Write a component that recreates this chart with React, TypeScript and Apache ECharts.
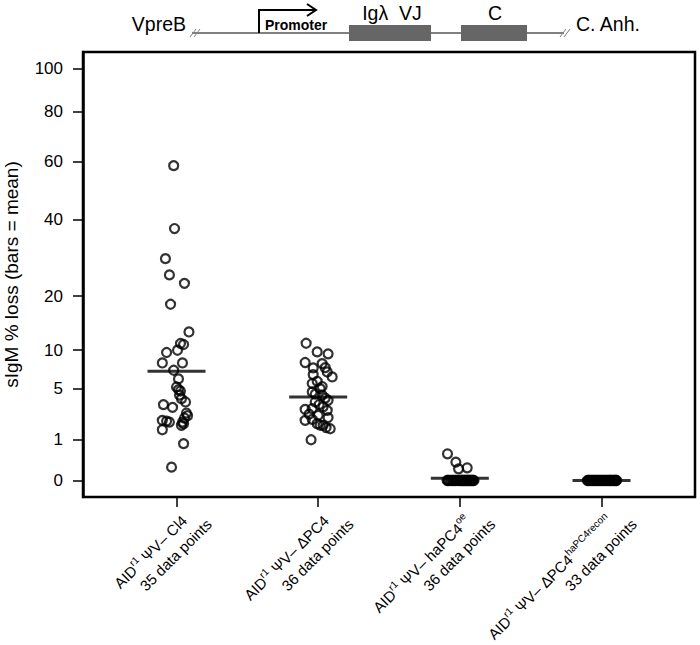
import React, { useEffect, useRef } from "react";
import * as echarts from "echarts";

// ---- data ----
const yTickValues = [0, 1, 5, 10, 20, 40, 60, 80, 100];
const categoryPositions = [1, 2, 3, 4];
const pointCounts = [35, 36, 36, 33];
const genotypeNames = ["Cl4", "ΔPC4", "haPC4", "ΔPC4"];
const genotypeSups = ["", "", "oe", "haPC4recon"];

const group1Values = [58.4, 37.4, 29.0, 24.9, 22.9, 18.3, 13.0, 11.06, 10.9, 10.0, 9.65, 8.14, 8.14, 7.16, 6.08, 5.15, 4.87, 4.72, 3.95, 3.63, 3.39, 3.15, 2.68, 2.48, 2.13, 2.08, 2.01, 2.01, 1.79, 1.52, 0.8, 0.105, 4.3, 2.3, 1.9];
const group1Jitter = [-0.02, -0.014, -0.078, -0.05, 0.056, -0.042, 0.088, 0.028, 0.05, 0.007, -0.07, -0.1, 0.042, -0.02, 0.014, 0, 0.014, 0.028, 0.035, 0.064, -0.092, -0.028, 0.07, 0.078, -0.1, -0.07, -0.05, 0.042, 0.035, -0.1, 0.05, -0.035, 0.021, 0.056, 0.05];

const group2Values = [11.1, 9.74, 9.45, 8.2, 8.05, 7.47, 7.5, 6.94, 6.32, 6.6, 5.54, 5.8, 4.97, 4.62, 4.4, 4.3, 3.79, 3.63, 2.98, 3.05, 3.2, 2.9, 2.5, 2.33, 2.13, 2.2, 1.9, 1.79, 1.65, 1.58, 0.98, 3.4, 4.0, 2.6, 1.8, 5.2];
const group2Jitter = [-0.085, -0.007, 0.07, -0.092, 0.028, -0.035, 0.05, 0.064, 0.099, -0.035, -0.042, -0.007, 0.014, -0.042, -0.021, 0.028, 0.07, -0.021, -0.092, -0.042, 0.035, 0.064, 0, 0.07, -0.092, -0.042, -0.007, 0.035, 0.056, 0.085, -0.05, 0.007, 0.05, -0.064, 0.014, 0.028];

const group3Values = [0.42, 0.2, 0.08, 0.095, 0, 0, 0, 0, 0, 0, 0, 0, 0, 0, 0, 0, 0, 0, 0, 0, 0, 0, 0, 0, 0, 0, 0, 0, 0, 0, 0, 0, 0, 0, 0, 0];
const group3Jitter = [-0.087, -0.028, -0.009, 0.052, -0.09, -0.085, -0.08, -0.07, -0.06, -0.05, -0.045, -0.035, -0.03, -0.02, -0.01, 0, 0.005, 0.01, 0.015, 0.02, 0.025, 0.03, 0.035, 0.04, 0.045, 0.05, 0.055, 0.06, 0.065, 0.07, 0.075, 0.08, 0.085, 0.09, 0.095, 0.1];

const group4Values = [0, 0, 0, 0, 0, 0, 0, 0, 0, 0, 0, 0, 0, 0, 0, 0, 0, 0, 0, 0, 0, 0, 0, 0, 0, 0, 0, 0, 0, 0, 0, 0, 0];
const group4Jitter = [-0.1, -0.095, -0.088, -0.08, -0.072, -0.065, -0.058, -0.05, -0.043, -0.036, -0.03, -0.022, -0.015, -0.008, 0, 0.007, 0.014, 0.021, 0.028, 0.035, 0.042, 0.049, 0.056, 0.063, 0.07, 0.077, 0.084, 0.09, 0.095, 0.1, 0.104, 0.106, 0.06];

const meanValues = [7.03, 4.11, 0.003, 0];

const FONT = "'Liberation Sans', Arial, sans-serif";

export default function App() {
  const ref = useRef<HTMLDivElement>(null);
  useEffect(() => {
    if (!ref.current) return;
    const chart = echarts.init(ref.current, null, { renderer: "svg" });
    const groupValues = [group1Values, group2Values, group3Values, group4Values];
    const groupJitter = [group1Jitter, group2Jitter, group3Jitter, group4Jitter];
    const points: number[][] = [];
    groupValues.forEach((vals, g) => {
      vals.forEach((v, i) => {
        points.push([categoryPositions[g] + groupJitter[g][i], Math.sqrt(v)]);
      });
    });
    const means = meanValues.map((m, g) => [categoryPositions[g], Math.sqrt(m)]);
    const sqrtTicks = yTickValues.map((v) => Math.sqrt(v));

    const option: any = {
      animation: false,
      backgroundColor: "#fff",
      textStyle: { fontFamily: FONT },
      grid: {
        left: 83,
        right: 5,
        top: 52,
        bottom: 148,
        outerBoundsMode: "none",
        containLabel: false,
        show: true,
        borderColor: "#000",
        borderWidth: 2.5,
        backgroundColor: "transparent",
      },
      xAxis: {
        type: "value",
        min: 0.34,
        max: 4.66,
        axisLine: { show: false, onZero: false },
        splitLine: { show: false },
        axisTick: {
          show: true,
          customValues: categoryPositions,
          length: 10,
          lineStyle: { color: "#000", width: 1.5 },
        },
        axisLabel: {
          customValues: categoryPositions,
          rotate: 45,
          margin: -8,
          verticalAlign: "top",
          align: "right",
          padding: [16, 0, 0, 0],
          color: "#000",
          fontSize: 15,
          fontFamily: FONT,
          formatter: (v: number) => {
            const i = Math.round(v) - 1;
            const sup = genotypeSups[i] ? `{s|${genotypeSups[i]}}` : "";
            return `{n|AID}{s|r1}{n| ΨV– ${genotypeNames[i]}}${sup}{p|}\n{n|${pointCounts[i]} data points}`;
          },
          rich: {
            n: { fontSize: 15, color: "#000", fontFamily: FONT, lineHeight: 20 },
            s: { fontSize: 10, color: "#000", fontFamily: FONT, verticalAlign: "top", lineHeight: 20 },
            p: { width: 15 },
          },
        },
      },
      yAxis: {
        type: "value",
        min: -0.4,
        max: 10.4,
        name: "sIgM % loss (bars = mean)",
        nameLocation: "middle",
        nameGap: 62,
        nameTextStyle: { fontSize: 19, color: "#000", fontFamily: FONT },
        axisLine: { show: true, onZero: false, lineStyle: { color: "#000", width: 2.5 } },
        splitLine: { show: false },
        axisTick: {
          show: true,
          customValues: sqrtTicks,
          length: 10,
          lineStyle: { color: "#000", width: 1.5 },
        },
        axisLabel: {
          customValues: sqrtTicks,
          margin: 20,
          fontSize: 17,
          color: "#000",
          fontFamily: FONT,
          formatter: (v: number) => String(Math.round(v * v)),
        },
      },
      series: [
        {
          type: "scatter",
          data: points,
          symbol: "circle",
          symbolSize: 9,
          itemStyle: { color: "rgba(0,0,0,0)", borderColor: "#000", borderWidth: 2.2 },
          emphasis: { disabled: true },
          z: 2,
        },
        {
          type: "scatter",
          data: means,
          symbol: "rect",
          symbolSize: [58, 3],
          itemStyle: { color: "#000" },
          emphasis: { disabled: true },
          z: 3,
        },
      ],
      graphic: [
        { type: "text", x: 186, y: 24, style: { text: "VpreB", fontSize: 19.5, fontFamily: FONT, fill: "#000", textAlign: "right", textVerticalAlign: "middle" } },
        { type: "line", shape: { x1: 192, y1: 33, x2: 564, y2: 33 }, style: { stroke: "#808080", lineWidth: 2 } },
        { type: "line", shape: { x1: 190, y1: 37, x2: 196, y2: 29 }, style: { stroke: "#808080", lineWidth: 1 } },
        { type: "line", shape: { x1: 194, y1: 37, x2: 200, y2: 29 }, style: { stroke: "#808080", lineWidth: 1 } },
        { type: "line", shape: { x1: 560, y1: 37, x2: 566, y2: 29 }, style: { stroke: "#808080", lineWidth: 1 } },
        { type: "line", shape: { x1: 564, y1: 37, x2: 570, y2: 29 }, style: { stroke: "#808080", lineWidth: 1 } },
        { type: "polyline", shape: { points: [[259, 33], [259, 10], [315, 10]] }, style: { stroke: "#000", lineWidth: 2, fill: null } },
        { type: "polyline", shape: { points: [[307, 4], [316, 10], [307, 16]] }, style: { stroke: "#000", lineWidth: 2, fill: null } },
        { type: "text", x: 265, y: 25, style: { text: "Promoter", fontSize: 14, fontWeight: "bold", fontFamily: FONT, fill: "#000", textAlign: "left", textVerticalAlign: "middle" } },
        { type: "rect", shape: { x: 349, y: 25, width: 82, height: 16 }, style: { fill: "#666" } },
        { type: "rect", shape: { x: 461, y: 25, width: 66, height: 16 }, style: { fill: "#666" } },
        { type: "text", x: 392, y: 13, style: { text: "Igλ  VJ", fontSize: 19.5, fontFamily: FONT, fill: "#000", textAlign: "center", textVerticalAlign: "middle" } },
        { type: "text", x: 495, y: 13, style: { text: "C", fontSize: 19.5, fontFamily: FONT, fill: "#000", textAlign: "center", textVerticalAlign: "middle" } },
        { type: "text", x: 576, y: 24, style: { text: "C. Anh.", fontSize: 19.5, fontFamily: FONT, fill: "#000", textAlign: "left", textVerticalAlign: "middle" } },
      ],
    };
    chart.setOption(option);
    return () => chart.dispose();
  }, []);
  return <div ref={ref} style={{ width: 700, height: 645, position: "absolute", left: 0, top: 0 }} />;
}
